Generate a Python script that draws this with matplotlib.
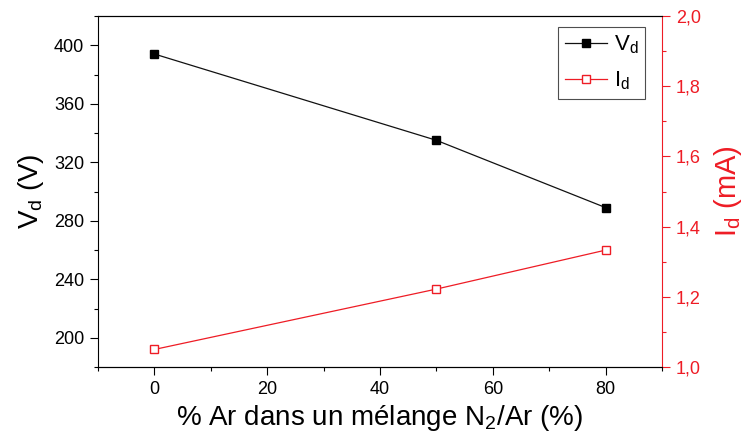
import matplotlib
matplotlib.use("Agg")
import matplotlib.pyplot as plt
from matplotlib.ticker import MultipleLocator, FuncFormatter

plt.rcParams['font.family'] = ['Liberation Sans', 'DejaVu Sans']
plt.rcParams['mathtext.fontset'] = 'custom'
plt.rcParams['mathtext.rm'] = 'Liberation Sans'
plt.rcParams['mathtext.it'] = 'Liberation Sans'

ar_percent = [0, 50, 80]
vd_values = [394, 335, 289]
id_values = [1.05, 1.222, 1.333]

fig = plt.figure(figsize=(7.44, 4.45), dpi=100)
ax = fig.add_axes([98/744, 1-367/445, (662-98)/744, (367-16)/445])
ax2 = ax.twinx()

red = '#ee1c25'
l1, = ax.plot(ar_percent, vd_values, color='#111111', lw=0.9, marker='s', ms=6.2,
              markerfacecolor='black', markeredgecolor='black', label=r'V$_\mathregular{d}$')
l2, = ax2.plot(ar_percent, id_values, color=red, lw=0.9, marker='s', ms=6.2,
               markerfacecolor='white', markeredgecolor=red, label=r'I$_\mathregular{d}$')

ax.set_xlim(-10, 90)
ax.set_ylim(180, 420)
ax2.set_ylim(1.0, 2.0)

ax.xaxis.set_major_locator(MultipleLocator(20))
ax.xaxis.set_minor_locator(MultipleLocator(10))
ax.yaxis.set_major_locator(MultipleLocator(40))
ax.yaxis.set_minor_locator(MultipleLocator(20))
ax2.yaxis.set_major_locator(MultipleLocator(0.2))
ax2.yaxis.set_minor_locator(MultipleLocator(0.1))
ax2.yaxis.set_major_formatter(FuncFormatter(lambda v, p: f"{v:.1f}".replace('.', ',')))

for a in (ax, ax2):
    a.tick_params(which='major', direction='out', length=6, width=0.8, labelsize=13, pad=4)
    a.tick_params(which='minor', direction='out', length=3, width=0.8)
ax.tick_params(axis='x', which='both', top=False)

ax2.spines['right'].set_color(red)
ax2.tick_params(axis='y', which='both', colors=red)
ax2.spines['left'].set_visible(False)
ax.spines['right'].set_visible(False)

ax.set_xlabel(r'% Ar dans un mélange N$_\mathregular{2}$/Ar (%)', fontsize=20, labelpad=4)
ax.set_ylabel(r'V$_\mathregular{d}$ (V)', fontsize=20, labelpad=6)
ax2.set_ylabel(r'I$_\mathregular{d}$ (mA)', fontsize=21, color=red, labelpad=8)

leg = ax.legend(handles=[l1, l2], loc='upper right', bbox_to_anchor=(0.970, 0.969),
                borderaxespad=0, fontsize=16, frameon=True, fancybox=False, edgecolor='#222222',
                handlelength=1.9, handletextpad=0.3, borderpad=0.3, labelspacing=0.6)
leg.get_frame().set_linewidth(0.8)

fig.savefig('out.png', dpi=100)
